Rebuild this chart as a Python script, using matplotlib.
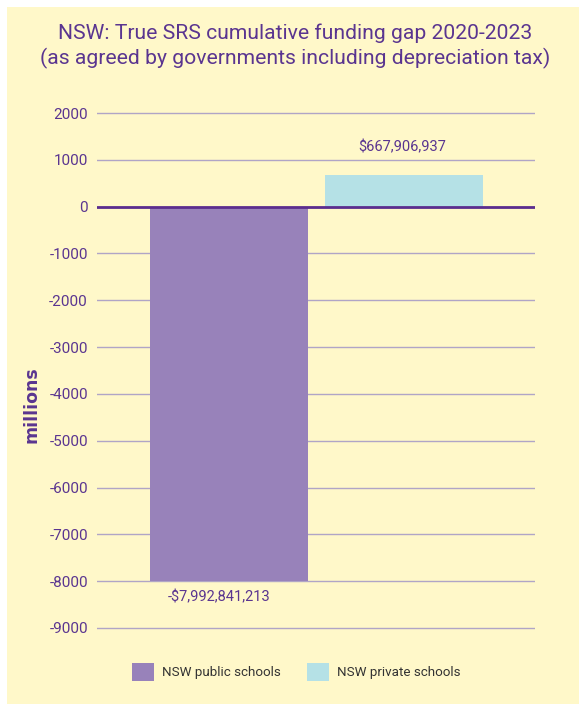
import matplotlib

matplotlib.use("Agg")

import matplotlib.pyplot as plt
from matplotlib.patches import Patch, Rectangle

categories = ["NSW public schools", "NSW private schools"]
gap_millions = [-7992.841213, 667.906937]
bar_labels = ["-$7,992,841,213", "$667,906,937"]
y_ticks = [2000, 1000, 0, -1000, -2000, -3000, -4000, -5000, -6000, -7000, -8000, -9000]

PURPLE_TEXT = "#5a3590"
BAR_COLORS = ["#9882ba", "#b5e1e6"]
PANEL = "#fff8c9"

plt.rcParams["font.family"] = ["Roboto", "DejaVu Sans"]

fig = plt.figure(figsize=(5.79, 7.04), dpi=100, facecolor="white")
fig.patches.append(
    Rectangle((7 / 579, 0), 1, 1 - 7 / 704, transform=fig.transFigure,
              facecolor=PANEL, edgecolor="none", zorder=-10)
)

ax = fig.add_axes([97 / 579, 0.1047, 438 / 579, 0.738])
ax.set_facecolor("none")

x = list(range(len(categories)))
bars = ax.bar(x, gap_millions, width=0.9, color=BAR_COLORS, zorder=2)

ax.set_xlim(-0.754, 1.75)
ax.set_ylim(-9050, 2050)
ax.set_yticks(y_ticks)
ax.set_yticklabels([str(v) for v in y_ticks])
ax.set_xticks([])
ax.tick_params(axis="y", length=0, pad=6.5, labelsize=11, labelcolor=PURPLE_TEXT)
for s in ax.spines.values():
    s.set_visible(False)
ax.yaxis.grid(True, color="#b0a5c6", linewidth=1.0, zorder=0)
ax.set_axisbelow(True)
ax.axhline(0, color="#5b2d8e", linewidth=2, zorder=3)

for bar, val, lab in zip(bars, gap_millions, bar_labels):
    cx = bar.get_x() + bar.get_width() / 2
    if val < 0:
        ax.annotate(lab, (cx, val), xytext=(-7, -11.5), textcoords="offset points",
                    ha="center", va="center", fontsize=10.5, color=PURPLE_TEXT)
    else:
        ax.annotate(lab, (cx, val), xytext=(-1.5, 20), textcoords="offset points",
                    ha="center", va="center", fontsize=10.5, color=PURPLE_TEXT)

fig.text(31 / 579, 1 - 405 / 704, "millions", rotation=90, ha="center", va="center",
         fontsize=12.5, fontweight="bold", color=PURPLE_TEXT, family="DejaVu Sans")

fig.text(295.5 / 579, 1 - 46 / 704, "NSW: True SRS cumulative funding gap 2020-2023\n"
         "(as agreed by governments including depreciation tax)",
         ha="center", va="center", fontsize=15.2, color=PURPLE_TEXT, linespacing=1.3)

handles = [Patch(facecolor=c, edgecolor="none") for c in BAR_COLORS]
fig.legend(handles, categories, loc="center", bbox_to_anchor=(296 / 579, 1 - 672 / 704),
           ncol=2, frameon=False, fontsize=9.6, handlelength=1.67, handleheight=1.75,
           columnspacing=1.95, handletextpad=0.6, labelcolor="#333333")

fig.savefig("out.png", dpi=100, facecolor=fig.get_facecolor())
